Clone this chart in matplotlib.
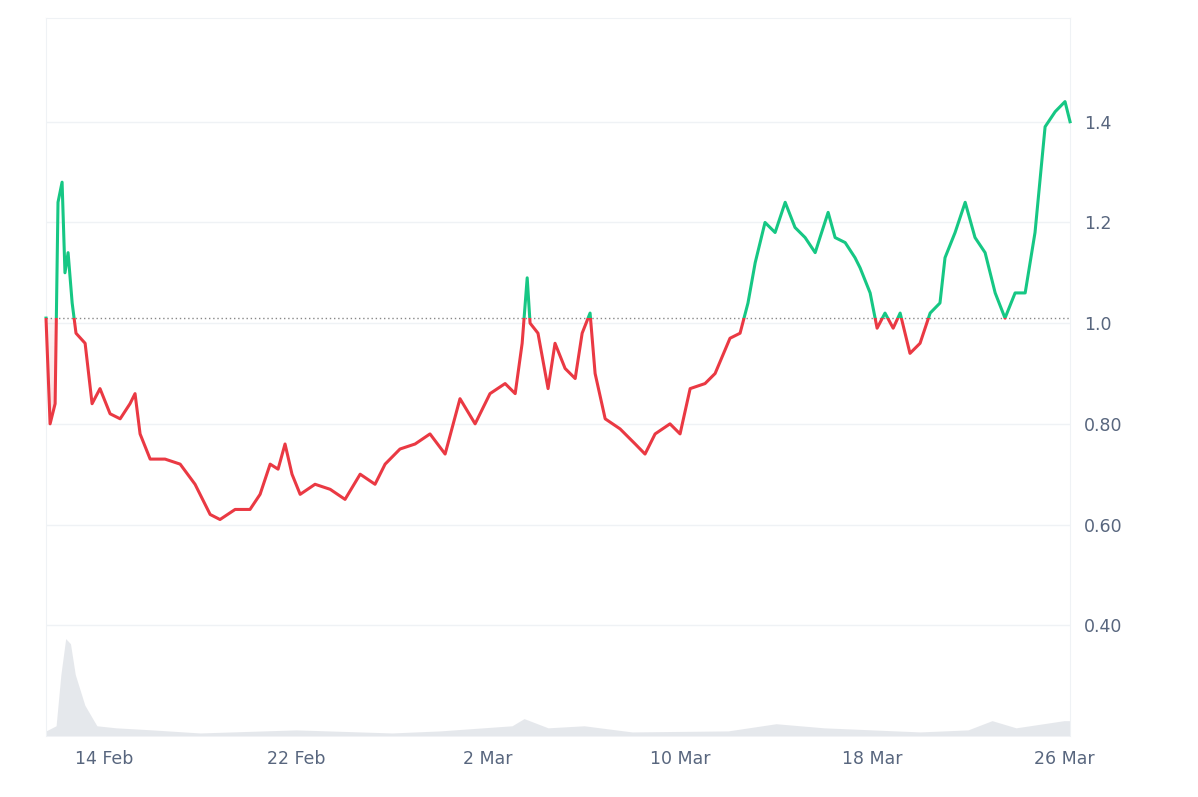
import numpy as np
import matplotlib.pyplot as plt
from matplotlib.patches import Rectangle, PathPatch
from matplotlib.colors import to_rgb

# days relative to 14 Feb
days = [-2.42,-2.25,-2.04,-1.92,-1.75,-1.63,-1.5,-1.33,-1.17,-0.79,-0.5,-0.17,0.25,0.67,1.08,1.29,1.5,1.92,2.54,3.17,3.79,4.42,4.83,5.46,6.08,6.5,6.92,7.25,7.54,7.83,8.17,8.79,9.42,10.04,10.67,11.29,11.71,12.33,12.96,13.58,14.21,14.83,15.46,16.08,16.71,17.13,17.42,17.63,17.75,18.08,18.5,18.79,19.21,19.63,19.92,20.25,20.46,20.88,21.5,22.13,22.54,22.96,23.58,24.0,24.42,25.04,25.46,26.08,26.5,26.83,27.13,27.54,27.96,28.38,28.79,29.21,29.63,29.83,30.17,30.46,30.88,31.29,31.5,31.92,32.21,32.54,32.88,33.17,33.58,34.0,34.42,34.83,35.04,35.46,35.88,36.29,36.71,37.13,37.54,37.96,38.38,38.79,39.21,39.63,40.04,40.25]
price = [1.01,0.80,0.84,1.24,1.28,1.10,1.14,1.04,0.98,0.96,0.84,0.87,0.82,0.81,0.84,0.86,0.78,0.73,0.73,0.72,0.68,0.62,0.61,0.63,0.63,0.66,0.72,0.71,0.76,0.70,0.66,0.68,0.67,0.65,0.70,0.68,0.72,0.75,0.76,0.78,0.74,0.85,0.80,0.86,0.88,0.86,0.96,1.09,1.00,0.98,0.87,0.96,0.91,0.89,0.98,1.02,0.90,0.81,0.79,0.76,0.74,0.78,0.80,0.78,0.87,0.88,0.90,0.97,0.98,1.04,1.12,1.20,1.18,1.24,1.19,1.17,1.14,1.17,1.22,1.17,1.16,1.13,1.11,1.06,0.99,1.02,0.99,1.02,0.94,0.96,1.02,1.04,1.13,1.18,1.24,1.17,1.14,1.06,1.01,1.06,1.06,1.18,1.39,1.42,1.44,1.40]
vol_days = [-2.42,-2.0,-1.8,-1.6,-1.4,-1.2,-0.8,-0.3,0.5,2,4,8,12,14,17,17.5,18.5,20,22,26,28,30,34,36,37,38,40,40.25]
volume = [0.05,0.1,0.6,0.95,0.9,0.6,0.3,0.1,0.08,0.06,0.03,0.06,0.03,0.05,0.1,0.17,0.08,0.1,0.04,0.05,0.12,0.08,0.04,0.06,0.15,0.08,0.15,0.15]
baseline = 1.01
tick_days = [0, 8, 16, 24, 32, 40]
tick_labels = ['14 Feb', '22 Feb', '2 Mar', '10 Mar', '18 Mar', '26 Mar']
y_ticks = [0.40, 0.60, 0.80, 1.0, 1.2, 1.4]
y_labels = ['0.40', '0.60', '0.80', '1.0', '1.2', '1.4']

green = '#16c784'; red = '#ea3943'
fig = plt.figure(figsize=(11.98, 7.97), dpi=100)
ax = fig.add_axes([0.0384, 0.0765, 0.8548, 0.9009])
x = np.array(days); y = np.array(price)
x0, x1 = x[0], x[-1]
ax.set_xlim(x0, x1); ax.set_ylim(0.18, 1.606)

ax2 = ax.twinx()
ax2.set_ylim(0, 7)
ax2.fill_between(vol_days, volume, color='#d5d9e0', alpha=0.6, lw=0)
ax2.set_yticks([])
for s in ax2.spines.values(): s.set_visible(False)

def gradient_fill(where, color, top, bottom, a_top, a_bot):
    pc = ax.fill_between(x, y, baseline, where=where, interpolate=True, color='none', lw=0)
    rgb = to_rgb(color)
    n = 256
    img = np.zeros((n, 1, 4)); img[:, 0, :3] = rgb
    img[:, 0, 3] = np.linspace(a_top, a_bot, n)
    im = ax.imshow(img, extent=[x0, x1, bottom, top], aspect='auto', origin='upper', zorder=2)
    for p in pc.get_paths():
        pp = PathPatch(p, transform=ax.transData, fc='none', ec='none')
        ax.add_patch(pp)
        im.set_clip_path(pp)
        break
    return pc

gradient_fill(y >= baseline, green, 1.45, baseline, 0.32, 0.12)
gradient_fill(y <= baseline, red, baseline, 0.60, 0.07, 0.28)
ax.set_xlim(x0, x1); ax.set_ylim(0.18, 1.606)

lg, = ax.plot(x, y, color=green, lw=2.2, zorder=5)
lr, = ax.plot(x, y, color=red, lw=2.2, zorder=5)
lg.set_clip_path(Rectangle((x0 - 1, baseline), 50, 2, transform=ax.transData))
lr.set_clip_path(Rectangle((x0 - 1, -1), 50, 1 + baseline, transform=ax.transData))
ax.axhline(baseline, color='#888888', ls=(0, (1, 2)), lw=1, zorder=4)

ax.set_yticks(y_ticks); ax.set_yticklabels(y_labels)
ax.set_xticks(tick_days); ax.set_xticklabels(tick_labels)
ax.yaxis.tick_right()
ax.tick_params(axis='both', length=0, labelsize=12.5, colors='#58667e', pad=10)
ax.grid(axis='y', color='#eff2f5', lw=1)
for s in ['left', 'right', 'top']:
    ax.spines[s].set_color('#eff2f5')
ax.spines['bottom'].set_visible(False)
ax.set_zorder(ax2.get_zorder() + 1); ax.patch.set_visible(False)
fig.savefig('out.png', dpi=100)
